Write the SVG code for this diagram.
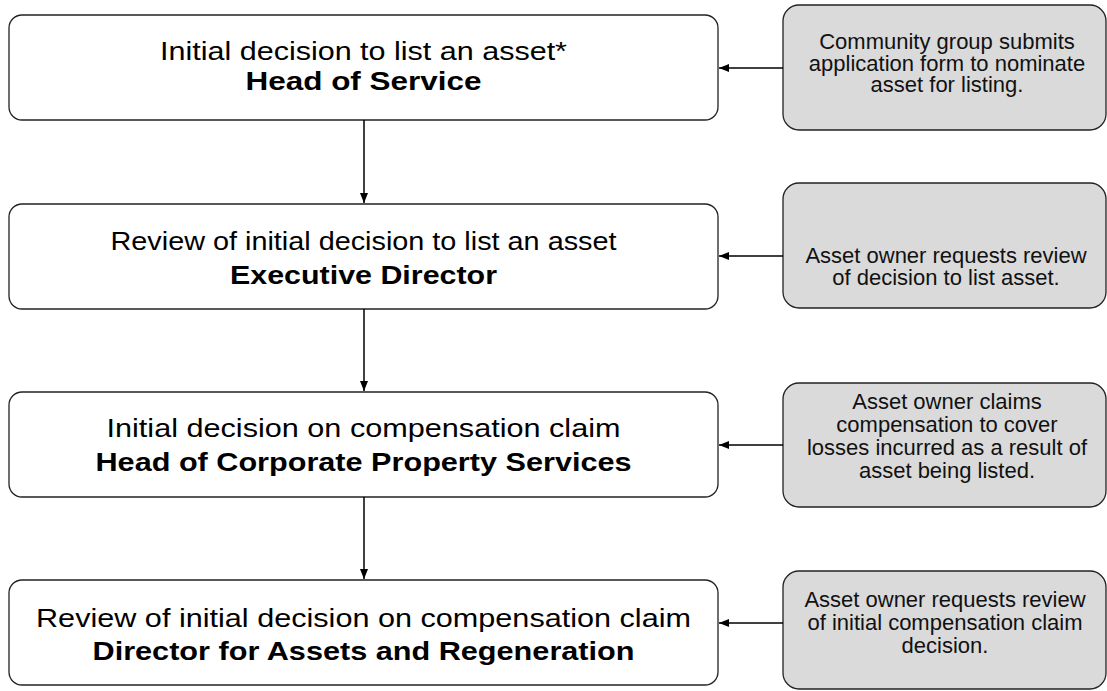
<svg xmlns="http://www.w3.org/2000/svg" width="1107" height="691" viewBox="0 0 1107 691">
<defs>
<marker id="ah" markerWidth="10" markerHeight="8" refX="10" refY="4" orient="auto" markerUnits="userSpaceOnUse">
<path d="M0,0 L10,4 L0,8 Z" fill="#000"/>
</marker>
<style>
.main{fill:#fff;stroke:#222;stroke-width:1.3}
.side{fill:#dadada;stroke:#222;stroke-width:1.3}
.t{font-family:"Liberation Sans",Arial,sans-serif;font-size:26px;fill:#000;text-anchor:middle}
.b{font-weight:bold}
.s{font-family:"Liberation Sans",Arial,sans-serif;font-size:22px;fill:#111;text-anchor:middle}
.c{stroke:#000;stroke-width:1.5;fill:none}
</style>
</defs>
<rect width="1107" height="691" fill="#fff"/>
<g id="n1">
<rect class="main" x="9" y="15" width="709" height="105" rx="13"/>
<text class="t" x="363.5" y="60" textLength="407" lengthAdjust="spacingAndGlyphs">Initial decision to list an asset*</text>
<text class="t b" x="363.5" y="90" textLength="236" lengthAdjust="spacingAndGlyphs">Head of Service</text>
</g>
<g id="n2">
<rect class="main" x="9" y="204" width="709" height="105" rx="13"/>
<text class="t" x="363.5" y="250" textLength="506" lengthAdjust="spacingAndGlyphs">Review of initial decision to list an asset</text>
<text class="t b" x="363.5" y="284" textLength="267" lengthAdjust="spacingAndGlyphs">Executive Director</text>
</g>
<g id="n3">
<rect class="main" x="9" y="392" width="709" height="105" rx="13"/>
<text class="t" x="363.5" y="437" textLength="514" lengthAdjust="spacingAndGlyphs">Initial decision on compensation claim</text>
<text class="t b" x="363.5" y="471" textLength="536" lengthAdjust="spacingAndGlyphs">Head of Corporate Property Services</text>
</g>
<g id="n4">
<rect class="main" x="9" y="580" width="709" height="105" rx="13"/>
<text class="t" x="363.5" y="627" textLength="655" lengthAdjust="spacingAndGlyphs">Review of initial decision on compensation claim</text>
<text class="t b" x="363.5" y="660" textLength="542" lengthAdjust="spacingAndGlyphs">Director for Assets and Regeneration</text>
</g>
<g id="r1">
<rect class="side" x="783" y="5" width="323" height="125" rx="16"/>
<text class="s" x="947" y="49">Community group submits</text>
<text class="s" x="947" y="70.5">application form to nominate</text>
<text class="s" x="947" y="91.5">asset for listing.</text>
</g>
<g id="r2">
<rect class="side" x="783" y="183" width="323" height="125" rx="16"/>
<text class="s" x="946" y="263">Asset owner requests review</text>
<text class="s" x="946" y="285">of decision to list asset.</text>
</g>
<g id="r3">
<rect class="side" x="783" y="383" width="323" height="124" rx="16"/>
<text class="s" x="947" y="409">Asset owner claims</text>
<text class="s" x="947" y="432">compensation to cover</text>
<text class="s" x="947" y="455">losses incurred as a result of</text>
<text class="s" x="947" y="478">asset being listed.</text>
</g>
<g id="r4">
<rect class="side" x="783" y="571" width="323" height="118" rx="16"/>
<text class="s" x="945" y="607">Asset owner requests review</text>
<text class="s" x="945" y="630">of initial compensation claim</text>
<text class="s" x="945" y="653">decision.</text>
</g>
<g id="connectors">
<line class="c" x1="364" y1="120" x2="364" y2="203" marker-end="url(#ah)"/>
<line class="c" x1="364" y1="309" x2="364" y2="391" marker-end="url(#ah)"/>
<line class="c" x1="364" y1="497" x2="364" y2="579" marker-end="url(#ah)"/>
<line class="c" x1="783" y1="68" x2="719" y2="68" marker-end="url(#ah)"/>
<line class="c" x1="783" y1="256" x2="719" y2="256" marker-end="url(#ah)"/>
<line class="c" x1="783" y1="445" x2="719" y2="445" marker-end="url(#ah)"/>
<line class="c" x1="783" y1="623" x2="719" y2="623" marker-end="url(#ah)"/>
</g>
</svg>
